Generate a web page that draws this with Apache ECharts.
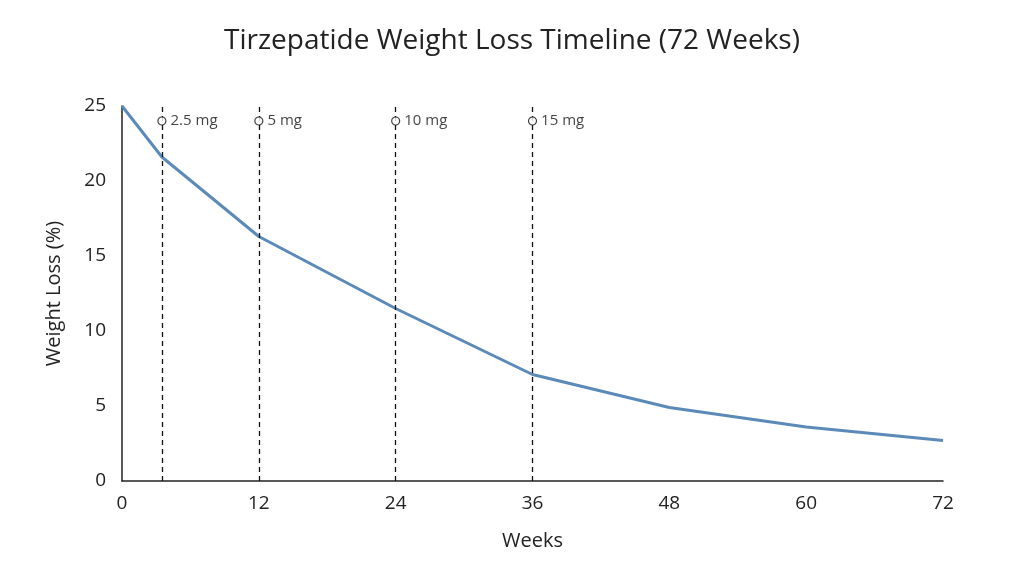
<!DOCTYPE html>
<html><head><meta charset="utf-8">
<script src="https://cdn.jsdelivr.net/npm/echarts@6/dist/echarts.min.js"></script>
<style>html,body{margin:0;padding:0;background:#fff}#c{width:1024px;height:572px}</style>
</head><body><div id="c"></div>
<script>
const weeks = [0, 3.5, 12, 24, 36, 48, 60, 72];
const lossValues = [25, 21.6, 16.3, 11.5, 7.1, 4.9, 3.6, 2.7];
const doseWeeks = [3.5, 12, 24, 36];
const doseLabels = ['2.5 mg', '5 mg', '10 mg', '15 mg'];
const doseMarkerY = 24;
const font = '"Open Sans", sans-serif';
const chart = echarts.init(document.getElementById('c'));
chart.setOption({
  animation: false,
  title: {text: 'Tirzepatide Weight Loss Timeline (72 Weeks)', left: 'center', top: 22,
    textStyle: {fontFamily: font, fontSize: 28, fontWeight: 'normal', color: '#222'}},
  grid: {left: 122, right: 81, top: 106, bottom: 91},
  xAxis: {type: 'value', min: 0, max: 72, interval: 12, name: 'Weeks', nameLocation: 'middle', nameGap: 50,
    nameTextStyle: {fontFamily: font, fontSize: 20, color: '#222'},
    axisLine: {lineStyle: {color: '#222', width: 1.5}}, axisTick: {show: false}, splitLine: {show: false},
    axisLabel: {fontFamily: font, fontSize: 19, color: '#222', margin: 13}},
  yAxis: {type: 'value', min: 0, max: 25, interval: 5, name: 'Weight Loss (%)', nameLocation: 'middle', nameGap: 58,
    nameTextStyle: {fontFamily: font, fontSize: 20, color: '#222'},
    axisLine: {show: true, lineStyle: {color: '#222', width: 1.5}}, axisTick: {show: false}, splitLine: {show: false},
    axisLabel: {fontFamily: font, fontSize: 19, color: '#222', margin: 16}},
  series: [
    {type: 'line', data: weeks.map((w, i) => [w, lossValues[i]]), showSymbol: false,
      lineStyle: {color: '#5b8ab8', width: 3}, itemStyle: {color: '#5b8ab8'},
      markLine: {symbol: 'none', silent: true, label: {show: false},
        lineStyle: {color: '#111', type: [5, 4], width: 1.3},
        data: doseWeeks.map(w => ({xAxis: w}))}},
    {type: 'scatter', data: doseWeeks.map((w, i) => ({value: [w, doseMarkerY], name: doseLabels[i]})),
      symbol: 'circle', symbolSize: 8, z: 5,
      itemStyle: {color: '#fff', borderColor: '#111', borderWidth: 1.2},
      label: {show: true, position: 'right', distance: 4, formatter: p => p.name,
        fontFamily: font, fontSize: 15, color: '#111'}}
  ]
});
</script></body></html>
